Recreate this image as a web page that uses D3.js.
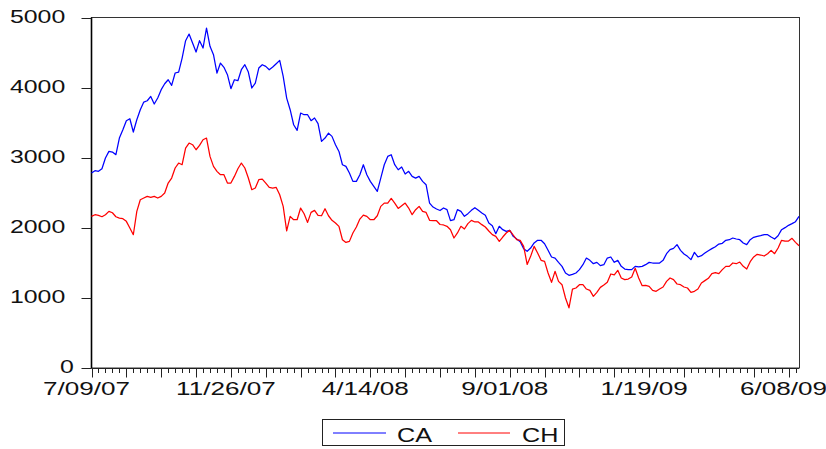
<!DOCTYPE html>
<html>
<head>
<meta charset="utf-8">
<script src="https://cdn.jsdelivr.net/npm/d3@7"></script>
<style>
  html, body { margin: 0; padding: 0; background: #fff; }
  svg { display: block; }
  text { font-family: "Liberation Sans", Arial, sans-serif; fill: #111; }
</style>
</head>
<body>
<svg id="chart" width="826" height="449"></svg>
<script>
// ---- data (half-weekly observations starting 7/09/07) ----
const startDate = "7/09/07";
const seriesNames = ["CA", "CH"];
const CA = [
  2785, 2818, 2809, 2847, 3000, 3095, 3085, 3047, 3285, 3404,
  3533, 3561, 3371, 3547, 3690, 3799, 3818, 3880, 3771, 3857,
  3976, 4061, 4118, 4037, 4214, 4228, 4428, 4676, 4771, 4642,
  4514, 4676, 4571, 4857, 4595, 4476, 4214, 4356, 4295, 4190,
  3990, 4118, 4104, 4261, 4333, 4228, 4000, 4071, 4285, 4333,
  4309, 4261, 4299, 4347, 4394, 4166, 3856, 3690, 3475, 3394,
  3642, 3618, 3618, 3533, 3571, 3490, 3237, 3285, 3356, 3309,
  3190, 3094, 2904, 2880, 2785, 2666, 2666, 2761, 2904, 2761,
  2666, 2594, 2523, 2713, 2904, 3023, 3047, 2904, 2832, 2871,
  2771, 2809, 2737, 2713, 2737, 2666, 2618, 2356, 2299, 2271,
  2250, 2286, 2262, 2105, 2119, 2262, 2238, 2167, 2205, 2252,
  2290, 2252, 2214, 2181, 2071, 2033, 1919, 2024, 1976, 1952,
  1967, 1881, 1843, 1805, 1705, 1667, 1714, 1786, 1824, 1824,
  1776, 1681, 1586, 1571, 1509, 1452, 1357, 1324, 1338, 1357,
  1405, 1476, 1571, 1538, 1490, 1509, 1462, 1476, 1571, 1586,
  1510, 1538, 1452, 1414, 1405, 1405, 1452, 1443, 1452, 1476,
  1509, 1500, 1500, 1500, 1538, 1633, 1690, 1709, 1762, 1681,
  1629, 1595, 1548, 1652, 1586, 1605, 1643, 1676, 1705, 1733,
  1771, 1781, 1824, 1833, 1857, 1843, 1833, 1786, 1762, 1833,
  1867, 1881, 1890, 1905, 1905, 1871, 1843, 1890, 1976, 2005,
  2038, 2062, 2090, 2167
];
const CH = [
  2166, 2190, 2180, 2161, 2190, 2237, 2218, 2161, 2142, 2133,
  2095, 2000, 1904, 2237, 2404, 2428, 2452, 2437, 2452, 2428,
  2452, 2499, 2642, 2714, 2857, 2928, 2904, 3142, 3214, 3190,
  3118, 3180, 3261, 3285, 3023, 2880, 2809, 2761, 2761, 2642,
  2642, 2737, 2847, 2928, 2857, 2714, 2547, 2571, 2690, 2699,
  2642, 2580, 2571, 2580, 2475, 2309, 1960, 2166, 2118, 2118,
  2285, 2204, 2080, 2223, 2252, 2180, 2175, 2275, 2175, 2109,
  2071, 2023, 1832, 1794, 1809, 1928, 2014, 2128, 2185, 2166,
  2118, 2118, 2175, 2309, 2356, 2356, 2423, 2356, 2280, 2318,
  2356, 2285, 2190, 2261, 2309, 2237, 2223, 2109, 2104, 2104,
  2050, 2043, 2024, 1976, 1857, 1929, 2024, 1986, 2062, 2109,
  2086, 2086, 2048, 2014, 1957, 1905, 1881, 1809, 1871, 1929,
  1967, 1900, 1833, 1824, 1738, 1480, 1595, 1738, 1643, 1538,
  1524, 1357, 1224, 1381, 1238, 1190, 1000, 860, 1128, 1143,
  1190, 1190, 1128, 1109, 1024, 1081, 1152, 1186, 1224, 1343,
  1329, 1395, 1286, 1262, 1271, 1300, 1424, 1286, 1176, 1181,
  1167, 1109, 1095, 1128, 1157, 1238, 1286, 1262, 1200, 1190,
  1157, 1143, 1081, 1095, 1128, 1214, 1248, 1281, 1348, 1362,
  1348, 1405, 1452, 1452, 1500, 1490, 1514, 1452, 1414, 1519,
  1586, 1624, 1614, 1600, 1633, 1681, 1633, 1714, 1824, 1814,
  1814, 1852, 1795, 1747
];
const xTickLabels = ["7/09/07", "11/26/07", "4/14/08", "9/01/08", "1/19/09", "6/08/09"];
const yTickValues = [0, 1000, 2000, 3000, 4000, 5000];
const seriesColors = ["#0000ff", "#ff0000"];

// ---- layout ----
const L = 91.5, R = 799, T = 18, B = 368;
const svg = d3.select("#chart");
const parse = d3.utcParse("%m/%d/%y");
const t0 = parse(startDate);
const dates = CA.map((_, i) => d3.utcHour.offset(t0, 84 * i));

const x = d3.scaleUtc().domain([dates[0], dates[dates.length - 1]]).range([L, R]);
const y = d3.scaleLinear().domain([0, 5000]).range([B, T]);

// frame
svg.append("rect")
  .attr("x", L).attr("y", T - 0.5)
  .attr("width", R - L + 0.5).attr("height", B - T + 0.5)
  .attr("fill", "none").attr("stroke", "#333").attr("stroke-width", 1);
svg.append("line").attr("x1", L).attr("x2", L).attr("y1", T - 0.5).attr("y2", B)
  .attr("stroke", "#000").attr("stroke-width", 1.6);
svg.append("line").attr("x1", L).attr("x2", R).attr("y1", B + 0.5).attr("y2", B + 0.5)
  .attr("stroke", "#222").attr("stroke-width", 1);

// y ticks & labels
const gy = svg.append("g");
yTickValues.forEach(v => {
  const yy = Math.round(y(v)) + 0.5;
  gy.append("line").attr("x1", L - 10).attr("x2", L).attr("y1", yy).attr("y2", yy)
    .attr("stroke", "#222").attr("stroke-width", 1);
  const t = gy.append("text").text(d3.format("d")(v))
    .attr("font-size", 18).attr("text-anchor", "start");
  const w = t.node().getComputedTextLength();
  t.attr("transform", `translate(${76.7 - 1.667 * w},${y(v) + 4.6}) scale(1.38,1)`);
});

// x ticks
const weeks = d3.utcMonday.range(t0, d3.utcDay.offset(dates[dates.length - 1], 1));
const gx = svg.append("g");
weeks.forEach((d, i) => {
  const xx = Math.round(x(d)) + 0.5;
  if (xx > R + 0.6) return;
  const len = (i % 5 === 0) ? 9 : 4.5;
  gx.append("line").attr("x1", xx).attr("x2", xx).attr("y1", B + 0.5).attr("y2", B + 0.5 + len)
    .attr("stroke", "#222").attr("stroke-width", 1);
});
xTickLabels.forEach(lbl => {
  const d = parse(lbl);
  gx.append("text").text(lbl)
    .attr("font-size", 18).attr("text-anchor", "middle")
    .attr("transform", `translate(${x(d) - 5},${394.5}) scale(1.45,1)`);
});

// series lines
const line = d3.line().x((d, i) => x(dates[i])).y(d => y(d));
[CA, CH].forEach((s, j) => {
  svg.append("path").datum(s)
    .attr("fill", "none").attr("stroke", seriesColors[j])
    .attr("stroke-width", 1.25).attr("stroke-linejoin", "round")
    .attr("d", line);
});

// legend
const lg = svg.append("g");
lg.append("rect").attr("x", 322.5).attr("y", 419.5).attr("width", 242).attr("height", 26)
  .attr("fill", "#fff").attr("stroke", "#222").attr("stroke-width", 1);
const legendItems = [
  { name: seriesNames[0], color: seriesColors[0], x1: 333, x2: 386, tx: 397 },
  { name: seriesNames[1], color: seriesColors[1], x1: 458, x2: 510, tx: 522 }
];
legendItems.forEach(it => {
  lg.append("line").attr("x1", it.x1).attr("x2", it.x2).attr("y1", 433).attr("y2", 433)
    .attr("stroke", it.color).attr("stroke-width", 1);
  lg.append("text").text(it.name).attr("font-size", 21)
    .attr("transform", `translate(${it.tx},441.5) scale(1.2,1)`);
});
</script>
</body>
</html>
